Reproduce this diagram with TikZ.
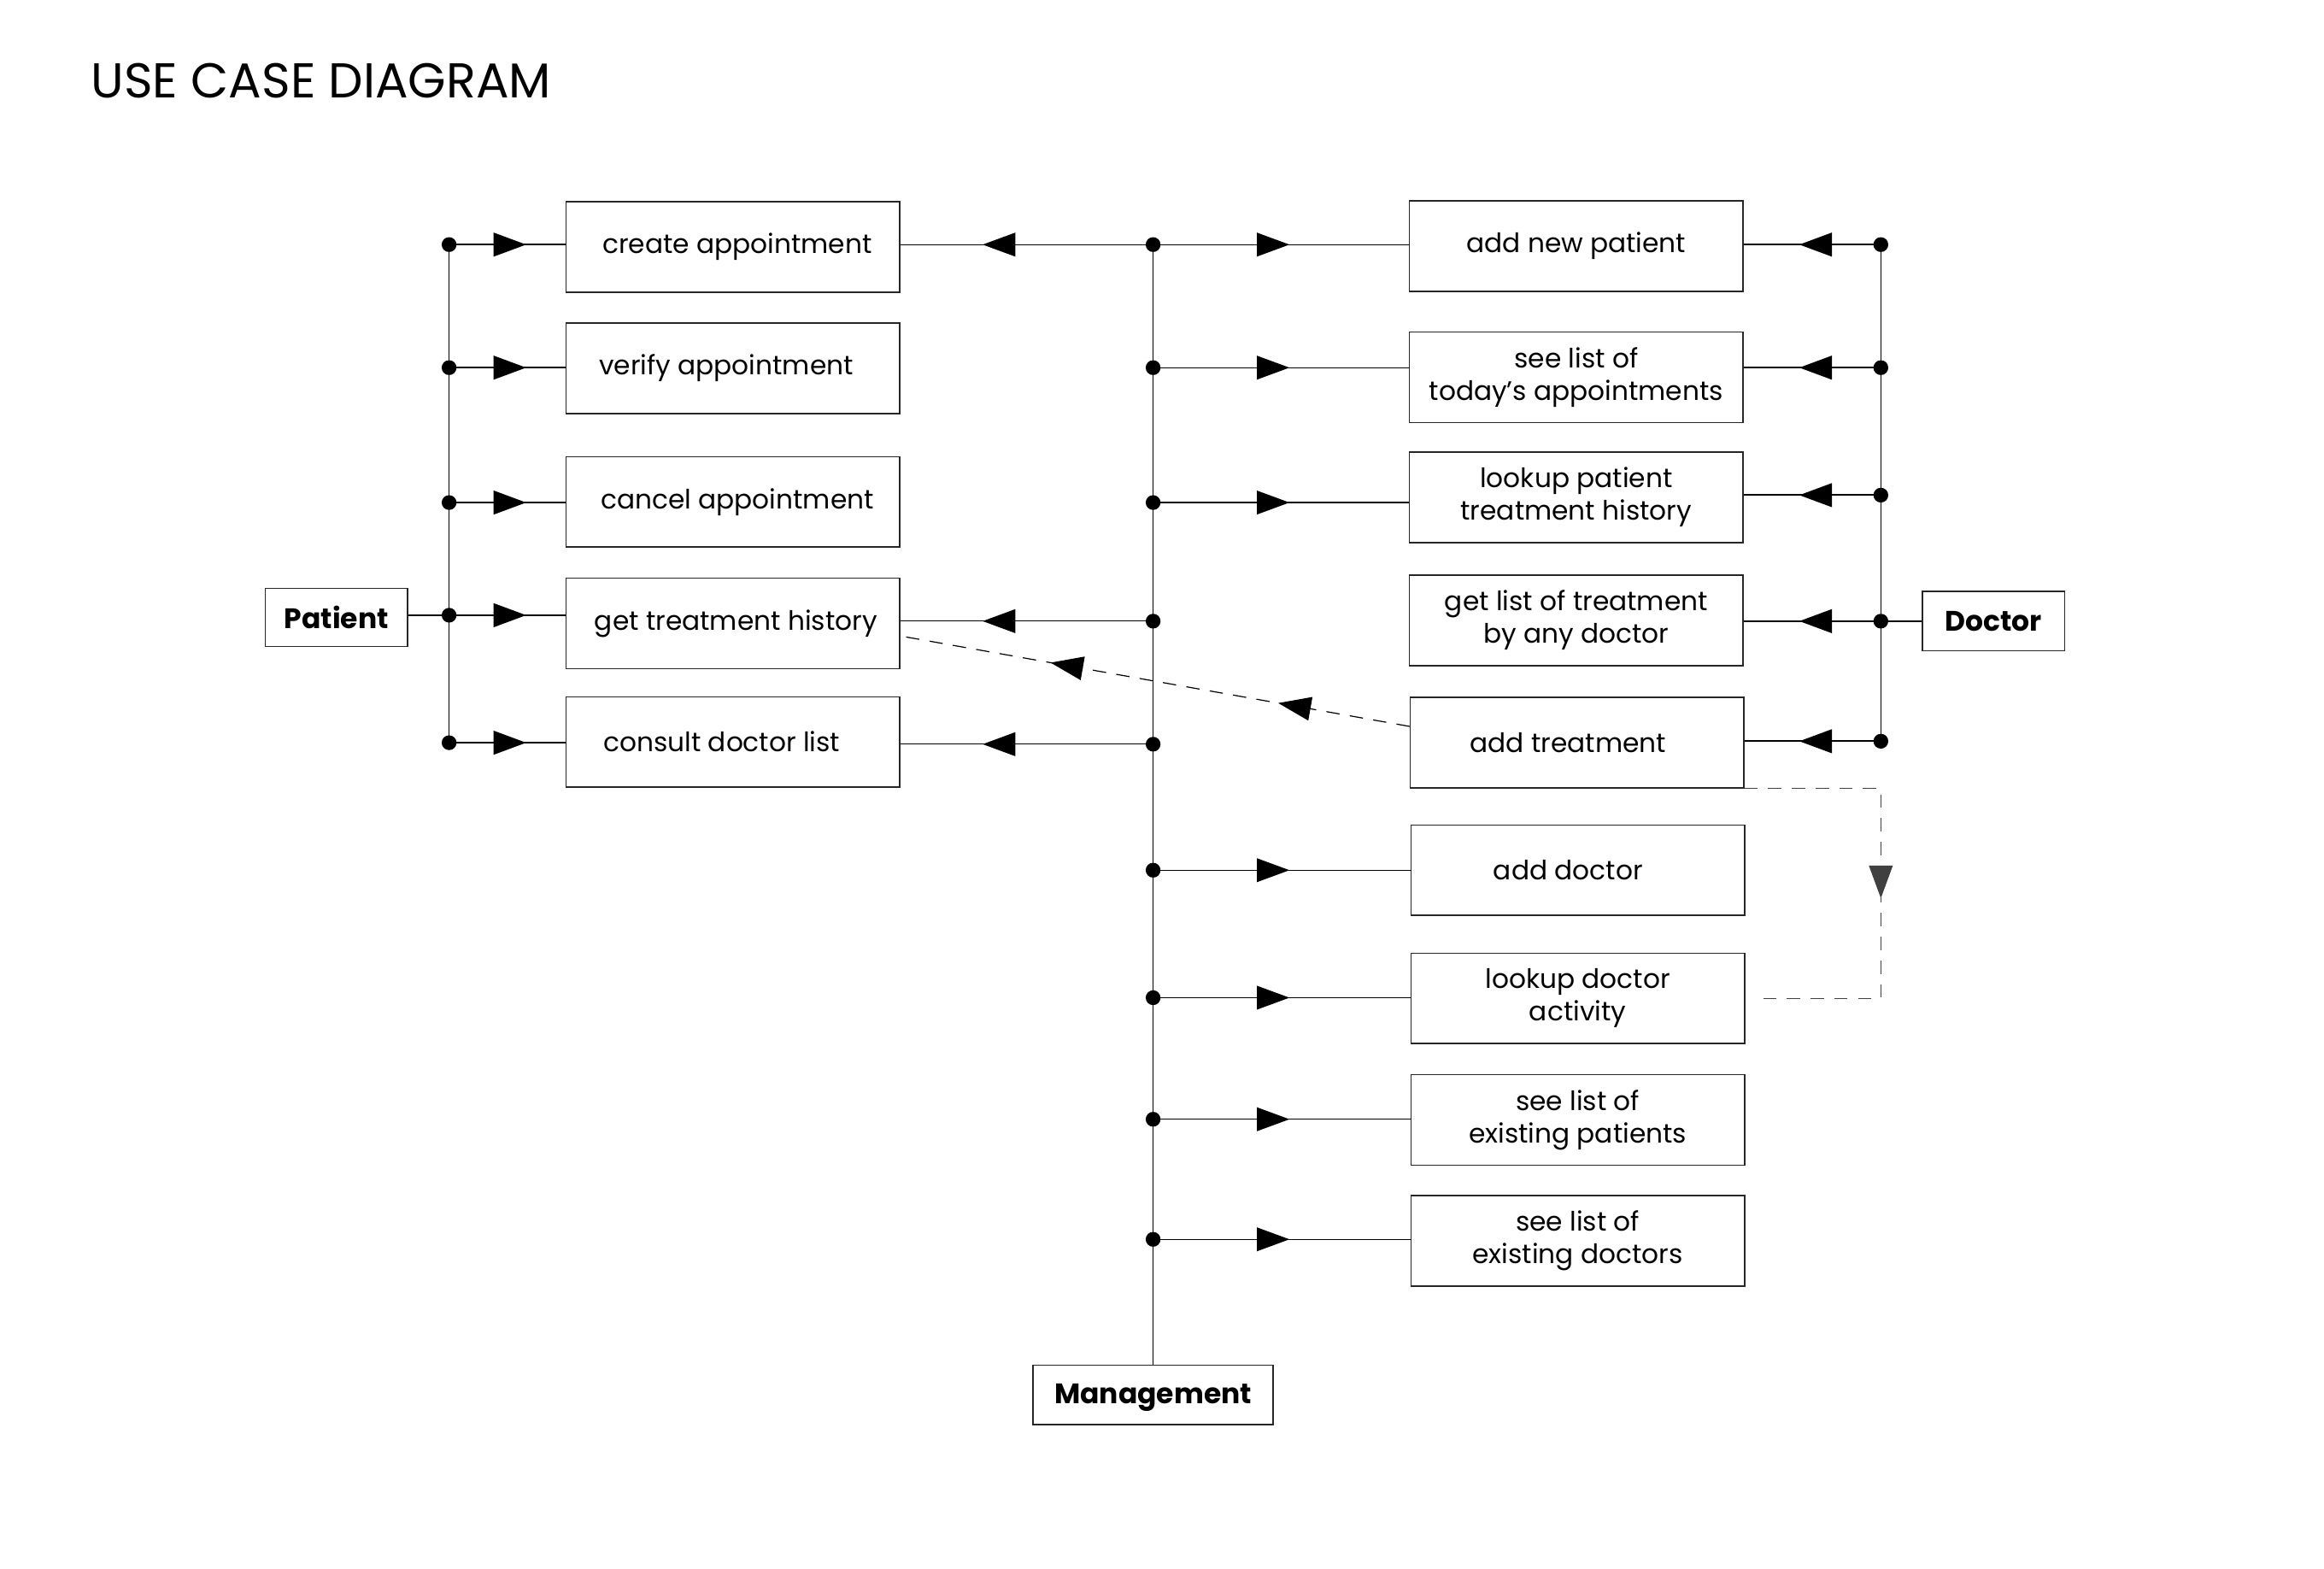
\documentclass[tikz,border=0pt]{standalone}
\usepackage{fontspec}
\setmainfont{Poppins}
\usetikzlibrary{arrows.meta,decorations.markings}
\newcommand{\shiftby}[1]{\hspace*{#1}}
\begin{document}
\begin{tikzpicture}[x=1pt,y=-1pt,
  box/.style={draw=black!85, line width=0.9pt, minimum width=225pt, minimum height=61pt,
    inner sep=0pt, align=center, font=\fontsize{18}{22}\selectfont},
  actor/.style={draw=black!85, line width=0.9pt, inner sep=0pt,
    font=\fontsize{19}{22}\selectfont\bfseries},
  bus/.style={line width=0.6pt},
  tipat/.style={postaction={decorate,decoration={markings,
    mark=at position #1 with {\arrow{Triangle[length=22pt,width=16pt]}}}}},
  plink/.style={line width=1.1pt, tipat=52pt},
  dlink/.style={line width=1.1pt, tipat=55pt},
  mrlink/.style={line width=0.7pt, tipat=92pt},
  mllink/.style={line width=0.7pt, tipat=115pt},
  dashlink/.style={line width=0.7pt, dash pattern=on 9pt off 7pt},
]
\useasboundingbox (0,0) rectangle (1568,1058);

\node[anchor=base west, font=\fontsize{33}{38}\selectfont] (title) at (58,66) {USE CASE DIAGRAM};

% left boxes
\node[box] (ca)  at (494.5,166.5) {\shiftby{6pt}create appointment};
\node[box] (va)  at (494.5,248.5) {\shiftby{-9pt}verify appointment};
\node[box] (cna) at (494.5,338.5) {\shiftby{6pt}cancel appointment};
\node[box] (gth) at (494.5,420.5) {\shiftby{4pt}get treatment history};
\node[box] (cdl) at (494.5,500.5) {\shiftby{-15pt}consult doctor list};

% right boxes
\node[box] (anp) at (1063.5,166) {add new patient};
\node[box] (slt) at (1063.5,254.5) {see list of\\today{\char"0027}s appointments};
\node[box] (lpt) at (1063.5,335.5) {lookup patient\\treatment history};
\node[box] (glt) at (1063.5,418.5) {get list of treatment\\by any doctor};
\node[box] (atr) at (1064,501) {\shiftby{-12pt}add treatment};
\node[box] (ad)  at (1064.5,587) {\shiftby{-13pt}add doctor};
\node[box] (lda) at (1064.5,673.5) {lookup doctor\\activity};
\node[box] (sep) at (1064.5,755.5) {see list of\\existing patients};
\node[box] (sed) at (1064.5,837) {see list of\\existing doctors};

% actors
\node[actor, minimum width=96pt, minimum height=39pt] (pat) at (227,416.5) {Patient};
\node[actor, minimum width=96pt, minimum height=40pt] (doc) at (1345,419) {Doctor};
\node[actor, minimum width=162pt, minimum height=40pt, text depth=2pt] (man) at (778,941) {Management};

% bus points
\coordinate (p1) at (303,165);
\coordinate (p2) at (303,248);
\coordinate (p3) at (303,339);
\coordinate (p4) at (303,415);
\coordinate (p5) at (303,501);

\coordinate (m1) at (778,165);
\coordinate (m2) at (778,248);
\coordinate (m3) at (778,339);
\coordinate (m4) at (778,419);
\coordinate (m5) at (778,502);
\coordinate (m6) at (778,587);
\coordinate (m7) at (778,673);
\coordinate (m8) at (778,755);
\coordinate (m9) at (778,836);

\coordinate (d1) at (1269,165);
\coordinate (d2) at (1269,248);
\coordinate (d3) at (1269,334);
\coordinate (d4) at (1269,419);
\coordinate (d5) at (1269,500);

% buses
\draw[bus] (p1) -- (p5);
\draw[bus] (m1) -- (man.north);
\draw[bus] (d1) -- (d5);
\draw[line width=1.1pt] (pat.east |- p4) -- (p4);
\draw[line width=1.1pt] (doc.west |- d4) -- (d4);

% patient links
\draw[plink] (p1) -- (p1 -| ca.west);
\draw[plink] (p2) -- (p2 -| va.west);
\draw[plink] (p3) -- (p3 -| cna.west);
\draw[plink] (p4) -- (p4 -| gth.west);
\draw[plink] (p5) -- (p5 -| cdl.west);

% management links
\draw[mllink] (m1) -- (m1 -| ca.east);
\draw[mllink] (m4) -- (m4 -| gth.east);
\draw[mllink] (m5) -- (m5 -| cdl.east);
\draw[mrlink] (m1) -- (m1 -| anp.west);
\draw[mrlink] (m2) -- (m2 -| slt.west);
\draw[mrlink] (m3) -- (m3 -| lpt.west);
\draw[mrlink] (m6) -- (m6 -| ad.west);
\draw[mrlink] (m7) -- (m7 -| lda.west);
\draw[mrlink] (m8) -- (m8 -| sep.west);
\draw[mrlink] (m9) -- (m9 -| sed.west);

% doctor links
\draw[dlink] (d1) -- (d1 -| anp.east);
\draw[dlink] (d2) -- (d2 -| slt.east);
\draw[dlink] (d3) -- (d3 -| lpt.east);
\draw[dlink] (d4) -- (d4 -| glt.east);
\draw[dlink] (d5) -- (d5 -| atr.east);

% dashed include
\draw[dashlink, tipat=90pt, tipat=246pt] ([yshift=11pt]atr.west) -- ([yshift=-8.5pt]gth.east);

% dashed extend
\draw[dashlink, draw=black!75, tipat=166pt] (atr.south east) -- (atr.south east -| d5) -- (d5 |- lda.east) -- ([xshift=7pt]lda.east);

% dots
\foreach \c in {p1,p2,p3,p4,p5,m1,m2,m3,m4,m5,m6,m7,m8,m9,d1,d2,d3,d4,d5}
  \fill (\c) circle (5pt);
\end{tikzpicture}
\end{document}
